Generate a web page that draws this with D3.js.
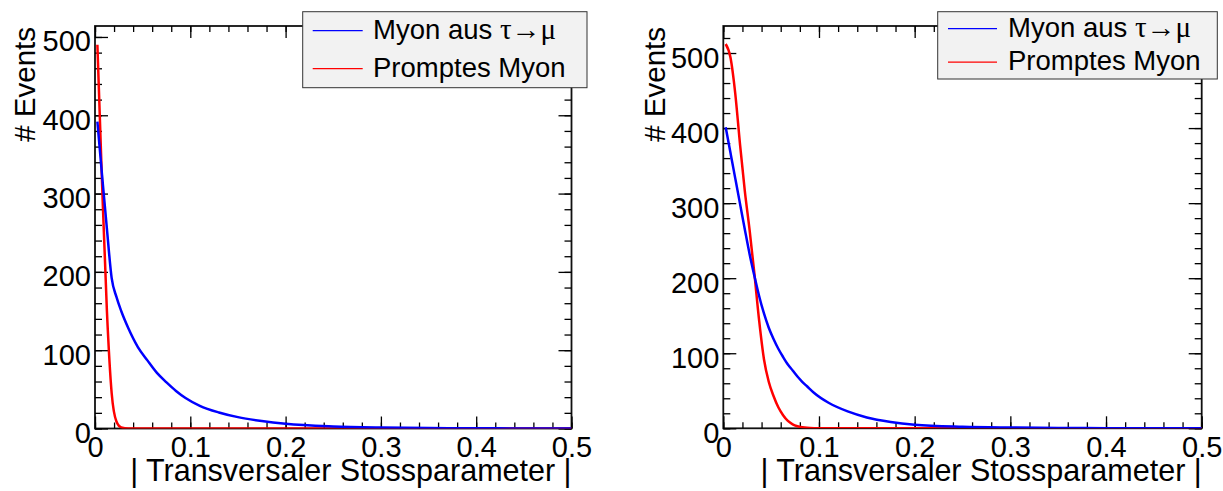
<!DOCTYPE html>
<html lang="de">
<head>
    <meta charset="UTF-8">
    <title>Transversaler Stossparameter</title>
    <script src="https://d3js.org/d3.v7.min.js"></script>
    <style>
        body {
            margin: 0;
            padding: 0;
            background: #ffffff;
        }
        svg text {
            font-family: "Liberation Sans", Arial, Helvetica, sans-serif;
            fill: #000;
        }
        .tick line {
            stroke: #000;
            stroke-width: 1.3;
        }
    </style>
</head>
<body>
    <div id="chart"></div>

    <script>
        // Bin centres and contents
        const leftX = [0.0025, 0.0075, 0.0125, 0.0175, 0.0225, 0.0275, 0.035, 0.045, 0.055, 0.065,
                       0.075, 0.085, 0.095, 0.11, 0.13, 0.15, 0.175, 0.2, 0.25, 0.3, 0.35, 0.4, 0.45, 0.5];
        const leftTau = [392, 322, 255, 192, 168, 150, 128, 104, 87, 71,
                         59, 48, 39, 29, 20.5, 14.5, 9.5, 6, 2.6, 1.2, 0.6, 0.3, 0.1, 0];
        const leftPrompt = [490, 310, 150, 45, 9, 1.5, 0, 0, 0, 0,
                            0, 0, 0, 0, 0, 0, 0, 0, 0, 0, 0, 0, 0, 0];

        const rightX = [0.0025, 0.0075, 0.0125, 0.0175, 0.0225, 0.0275, 0.0325, 0.0375, 0.0425, 0.0475,
                        0.0525, 0.0575, 0.0625, 0.0675, 0.0725, 0.0775, 0.0825, 0.0875, 0.095, 0.11,
                        0.13, 0.15, 0.175, 0.2, 0.25, 0.3, 0.35, 0.4, 0.45, 0.5];
        const rightTau = [401, 367, 333, 299, 265, 232, 203, 176, 153, 134,
                          119, 106, 95, 85, 77, 69, 62, 56, 47, 34,
                          22.5, 14.5, 8.5, 4.8, 2, 1, 0.5, 0.2, 0.1, 0];
        const rightPrompt = [512, 494, 446, 378, 316, 264, 206, 143, 92, 62,
                             43, 28, 17.5, 9.8, 5.3, 2.8, 1.4, 0.6, 0.2, 0,
                             0, 0, 0, 0, 0, 0, 0, 0, 0, 0];

        const xTicks = [0, 0.1, 0.2, 0.3, 0.4, 0.5];
        const yTicks = [0, 100, 200, 300, 400, 500];
        const legendLabels = ["Myon aus ", "Promptes Myon"];

        const width = 1223, height = 491;

        const panels = [
            { x0: 95, x1: 571.5, y0: 428.5, y1: 26, yMax: 514, tau: leftTau, prompt: leftPrompt, xs: leftX,
              titleX: 35,
              legend: { x: 302.7, y: 11.7, w: 284.3, h: 76, lx0: 312.7, lx1: 362.7, tx: 373 } },
            { x0: 723.3, x1: 1201.7, y0: 428.3, y1: 26, yMax: 536, tau: rightTau, prompt: rightPrompt, xs: rightX,
              titleX: 665,
              legend: { x: 937.7, y: 11.7, w: 279.6, h: 67.3, lx0: 948, lx1: 997, tx: 1008 } }
        ];

        const svg = d3.select("#chart")
            .append("svg")
            .attr("width", width)
            .attr("height", height);

        panels.forEach((p, i) => {
            const x = d3.scaleLinear().domain([0, 0.5]).range([p.x0, p.x1]);
            const y = d3.scaleLinear().domain([0, p.yMax]).range([p.y0, p.y1]);
            const g = svg.append("g");

            // frame
            g.append("rect")
                .attr("x", p.x0).attr("y", p.y1)
                .attr("width", p.x1 - p.x0).attr("height", p.y0 - p.y1)
                .attr("fill", "none").attr("stroke", "#111").attr("stroke-width", 1.8);

            const xMinor = d3.range(0, 0.5001, 0.02).map(d => +d.toFixed(2));
            const yMinor = d3.range(0, p.yMax, 20);

            // bottom axis
            const bottom = g.append("g").attr("transform", `translate(0,${p.y0})`)
                .call(d3.axisBottom(x).tickValues(xTicks).tickSize(-12).tickSizeOuter(0)
                    .tickPadding(8).tickFormat(d => d));
            bottom.selectAll("text").attr("font-size", 29);
            g.append("g").attr("transform", `translate(0,${p.y0})`)
                .call(d3.axisBottom(x).tickValues(xMinor).tickSize(-6).tickSizeOuter(0).tickFormat(""));

            // top axis
            g.append("g").attr("transform", `translate(0,${p.y1})`)
                .call(d3.axisTop(x).tickValues(xTicks).tickSize(-12).tickSizeOuter(0).tickFormat(""));
            g.append("g").attr("transform", `translate(0,${p.y1})`)
                .call(d3.axisTop(x).tickValues(xMinor).tickSize(-6).tickSizeOuter(0).tickFormat(""));

            // left axis
            const left = g.append("g").attr("transform", `translate(${p.x0},0)`)
                .call(d3.axisLeft(y).tickValues(yTicks).tickSize(-13).tickSizeOuter(0).tickPadding(4));
            left.selectAll("text").attr("font-size", 29).attr("dy", 14);
            g.append("g").attr("transform", `translate(${p.x0},0)`)
                .call(d3.axisLeft(y).tickValues(yMinor).tickSize(-7).tickSizeOuter(0).tickFormat(""));

            // right axis
            g.append("g").attr("transform", `translate(${p.x1},0)`)
                .call(d3.axisRight(y).tickValues(yTicks).tickSize(-13).tickSizeOuter(0).tickFormat(""));
            g.append("g").attr("transform", `translate(${p.x1},0)`)
                .call(d3.axisRight(y).tickValues(yMinor).tickSize(-7).tickSizeOuter(0).tickFormat(""));

            g.selectAll(".domain").remove();
            g.selectAll(".tick text").attr("font-family", "'Liberation Sans', Arial, sans-serif");

            // curves
            const clipId = "clip" + i;
            svg.append("clipPath").attr("id", clipId)
                .append("rect")
                .attr("x", p.x0).attr("y", p.y1)
                .attr("width", p.x1 - p.x0).attr("height", p.y0 - p.y1);

            const line = d3.line()
                .x((d, j) => x(p.xs[j]))
                .y(d => y(d))
                .curve(d3.curveMonotoneX);

            const curves = g.append("g").attr("clip-path", `url(#${clipId})`);
            curves.append("path").datum(p.prompt)
                .attr("d", line).attr("fill", "none")
                .attr("stroke", "#ff0000").attr("stroke-width", 2.5);
            curves.append("path").datum(p.tau)
                .attr("d", line).attr("fill", "none")
                .attr("stroke", "#0000ff").attr("stroke-width", 2.5);

            // axis titles
            g.append("text")
                .attr("transform", `translate(${p.titleX},27) rotate(-90)`)
                .attr("text-anchor", "end")
                .attr("font-size", 29.5)
                .text("# Events");
            g.append("text")
                .attr("x", p.x1).attr("y", 481)
                .attr("text-anchor", "end")
                .attr("font-size", 30.5)
                .text("| Transversaler Stossparameter |");

            // legend
            const L = p.legend;
            g.append("rect")
                .attr("x", L.x).attr("y", L.y).attr("width", L.w).attr("height", L.h)
                .attr("fill", "#f2f2f2").attr("stroke", "#333").attr("stroke-width", 1);
            const rowH = L.h / 2;
            const colors = ["#0000ff", "#ff0000"];
            legendLabels.forEach((lab, k) => {
                const cy = L.y + rowH * (k + 0.5);
                g.append("line")
                    .attr("x1", L.lx0).attr("x2", L.lx1)
                    .attr("y1", cy).attr("y2", cy)
                    .attr("stroke", colors[k]).attr("stroke-width", 1.2);
                const t = g.append("text")
                    .attr("x", L.tx).attr("y", cy + 8.2)
                    .attr("font-size", 27.5)
                    .text(lab);
                if (k === 0) {
                    t.append("tspan")
                        .attr("font-family", "'Liberation Serif', 'DejaVu Serif', serif")
                        .attr("font-size", 29)
                        .text("τ→μ");
                }
            });
        });
    </script>
</body>
</html>
